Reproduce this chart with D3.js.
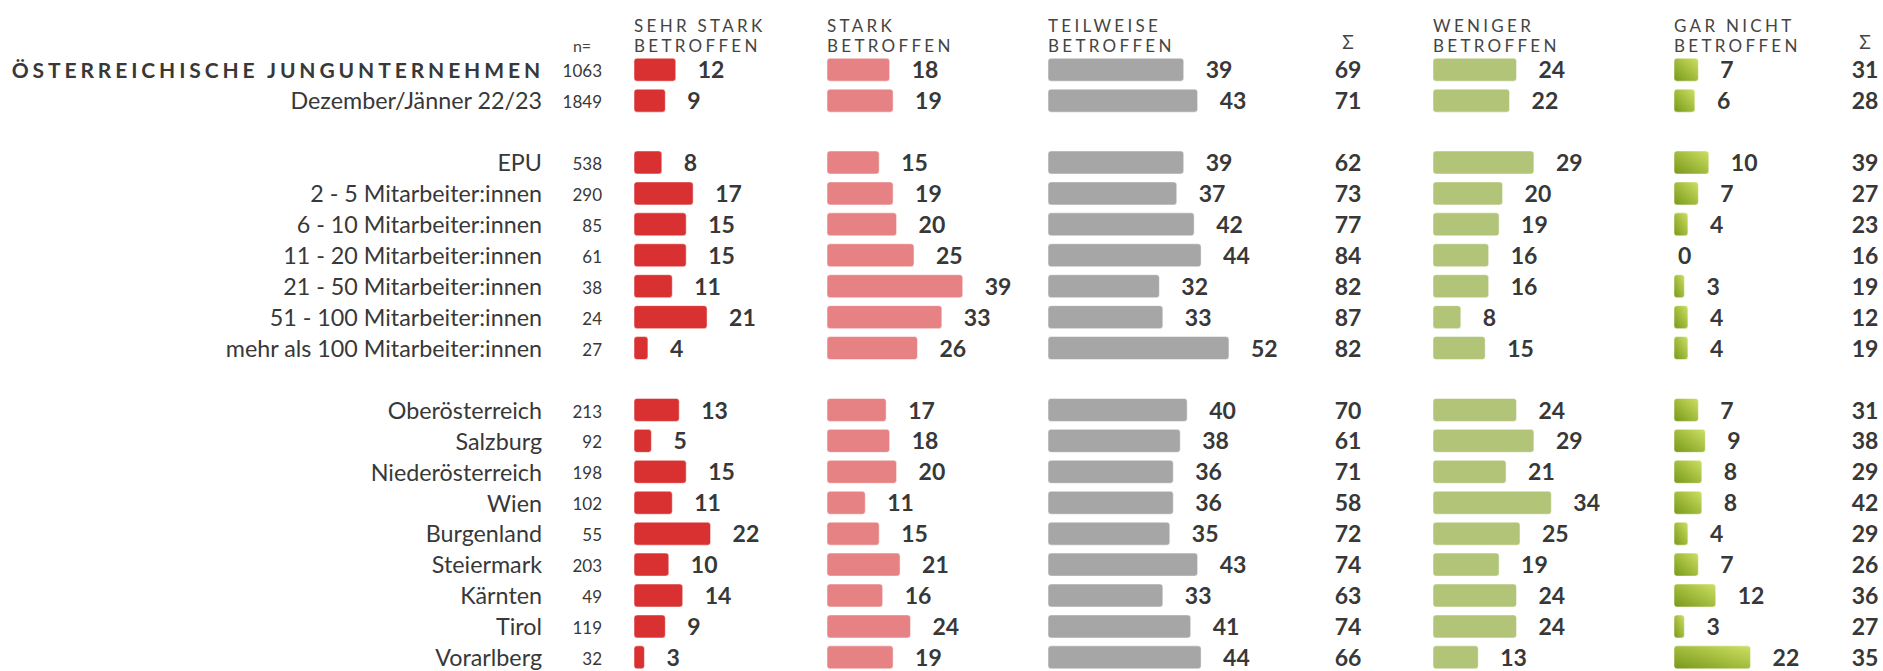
<!DOCTYPE html>
<html>
<head>
<meta charset="utf-8">
<script src="https://cdn.jsdelivr.net/npm/d3@7"></script>
<style>
  body { margin: 0; background: #fff; }
  svg { display: block; font-family: Lato, "Open Sans", sans-serif; }
</style>
</head>
<body>
<div id="chart"></div>
<script>
// row labels and n
var rowLabels = ["ÖSTERREICHISCHE JUNGUNTERNEHMEN", "Dezember/Jänner 22/23",
    "EPU", "2 - 5 Mitarbeiter:innen", "6 - 10 Mitarbeiter:innen", "11 - 20 Mitarbeiter:innen",
    "21 - 50 Mitarbeiter:innen", "51 - 100 Mitarbeiter:innen", "mehr als 100 Mitarbeiter:innen",
    "Oberösterreich", "Salzburg", "Niederösterreich", "Wien", "Burgenland", "Steiermark",
    "Kärnten", "Tirol", "Vorarlberg"];
var nValues   = [1063, 1849, 538, 290, 85, 61, 38, 24, 27, 213, 92, 198, 102, 55, 203, 49, 119, 32];

// series (percent)
var sehrStark = [12, 9, 8, 17, 15, 15, 11, 21, 4, 13, 5, 15, 11, 22, 10, 14, 9, 3];
var stark     = [18, 19, 15, 19, 20, 25, 39, 33, 26, 17, 18, 20, 11, 15, 21, 16, 24, 19];
var teilweise = [39, 43, 39, 37, 42, 44, 32, 33, 52, 40, 38, 36, 36, 35, 43, 33, 41, 44];
var sumBetroffen = [69, 71, 62, 73, 77, 84, 82, 87, 82, 70, 61, 71, 58, 72, 74, 63, 74, 66];
var weniger   = [24, 22, 29, 20, 19, 16, 16, 8, 15, 24, 29, 21, 34, 25, 19, 24, 24, 13];
var garNicht  = [7, 6, 10, 7, 4, 0, 3, 4, 4, 7, 9, 8, 8, 4, 7, 12, 3, 22];
var sumNicht  = [31, 28, 39, 27, 23, 16, 19, 12, 19, 31, 38, 29, 42, 29, 26, 36, 27, 35];

var barHeaders = [["SEHR STARK", "BETROFFEN"], ["STARK", "BETROFFEN"], ["TEILWEISE", "BETROFFEN"],
                  ["WENIGER", "BETROFFEN"], ["GAR NICHT", "BETROFFEN"]];

var width = 1883, height = 671;
var textColor = "#383838";

var svg = d3.select("#chart").append("svg")
    .attr("width", width)
    .attr("height", height);

var grad = svg.append("defs").append("linearGradient")
    .attr("id", "garGrad")
    .attr("x1", 0).attr("y1", 1).attr("x2", 1).attr("y2", 0);
grad.append("stop").attr("offset", "0%").attr("stop-color", "#789819");
grad.append("stop").attr("offset", "100%").attr("stop-color", "#cde063");

var barCols = [
    {values: sehrStark, x0: 634,  fill: "#d93131"},
    {values: stark,     x0: 827,  fill: "#e68283"},
    {values: teilweise, x0: 1048, fill: "#a6a6a6"},
    {values: weniger,   x0: 1433, fill: "#b1c478"},
    {values: garNicht,  x0: 1674, fill: "url(#garGrad)"}
];
var sumCols = [{values: sumBetroffen, x: 1348}, {values: sumNicht, x: 1865}];

// slot index with blank rows between groups
function slot(i) { return i + (i >= 2 ? 1 : 0) + (i >= 9 ? 1 : 0); }

var x = d3.scaleLinear().domain([0, 100]).range([0, 348]);
var y = d3.scaleLinear().domain([0, 19]).range([69.7, 69.7 + 19 * 30.93]);
var barH = 23;

// headers
barCols.forEach(function(c, k) {
    var t = svg.append("text")
        .attr("x", c.x0)
        .attr("fill", "#444")
        .attr("font-size", 17)
        .attr("letter-spacing", "3.3px");
    barHeaders[k].forEach(function(line, j) {
        t.append("tspan").attr("x", c.x0).attr("y", 31.7 + j * 20).text(line);
    });
});
sumCols.forEach(function(c) {
    svg.append("text")
        .attr("x", c.x).attr("y", 48.5)
        .attr("text-anchor", "middle")
        .attr("fill", "#444")
        .attr("font-size", 19)
        .text("Σ");
});
svg.append("text")
    .attr("x", 582).attr("y", 51.5)
    .attr("text-anchor", "middle")
    .attr("fill", "#444")
    .attr("font-size", 16)
    .text("n=");

// row labels
svg.selectAll(".rowlabel").data(rowLabels)
    .enter().append("text")
    .attr("class", "rowlabel")
    .attr("x", function(d, i) { return i === 0 ? 544 : 542; })
    .attr("y", function(d, i) { return y(slot(i)) + (i === 0 ? 8.6 : 8.8); })
    .attr("text-anchor", "end")
    .attr("fill", textColor)
    .attr("font-size", function(d, i) { return i === 0 ? 21 : 23.3; })
    .attr("font-weight", function(d, i) { return i === 0 ? "bold" : "normal"; })
    .attr("letter-spacing", function(d, i) { return i === 0 ? "3.9px" : null; })
    .text(function(d) { return d; });

svg.selectAll(".nval").data(nValues)
    .enter().append("text")
    .attr("class", "nval")
    .attr("x", 602)
    .attr("y", function(d, i) { return y(slot(i)) + 7.6; })
    .attr("text-anchor", "end")
    .attr("fill", textColor)
    .attr("font-size", 17)
    .text(function(d) { return d; });

// bars + values
barCols.forEach(function(c) {
    var g = svg.append("g");
    g.selectAll("rect").data(c.values)
        .enter().append("rect")
        .attr("x", c.x0)
        .attr("y", function(d, i) { return y(slot(i)) - barH / 2; })
        .attr("width", function(d) { return x(d); })
        .attr("height", barH)
        .attr("rx", 3)
        .attr("fill", c.fill)
        .attr("stroke", "rgba(255,255,255,0.5)")
        .attr("stroke-width", 1);
    g.selectAll("text").data(c.values)
        .enter().append("text")
        .attr("x", function(d) { return c.x0 + (d === 0 ? 4 : x(d) + 22); })
        .attr("y", function(d, i) { return y(slot(i)) + 8.6; })
        .attr("fill", textColor)
        .attr("font-size", 23)
        .attr("font-weight", "bold")
        .text(function(d) { return d; });
});

sumCols.forEach(function(c) {
    svg.append("g").selectAll("text").data(c.values)
        .enter().append("text")
        .attr("x", c.x)
        .attr("y", function(d, i) { return y(slot(i)) + 8.6; })
        .attr("text-anchor", "middle")
        .attr("fill", textColor)
        .attr("font-size", 23)
        .attr("font-weight", "bold")
        .text(function(d) { return d; });
});
</script>
</body>
</html>
